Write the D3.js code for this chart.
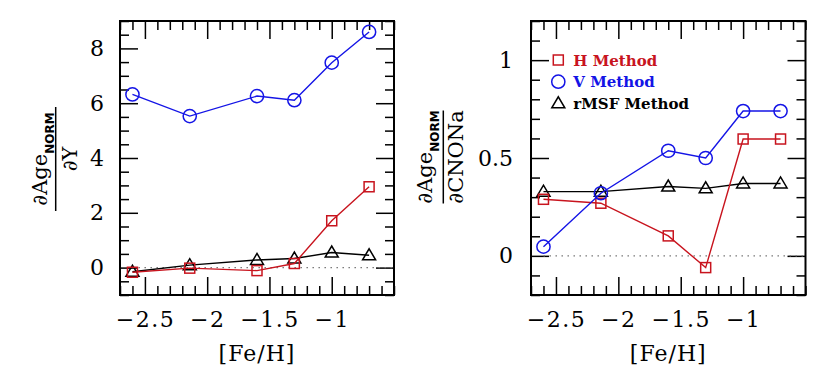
<!DOCTYPE html>
<html><head><meta charset="utf-8">
<script src="https://cdn.jsdelivr.net/npm/d3@7"></script>
<style>
html,body{margin:0;padding:0;background:#fff;}
svg{display:block;}
</style></head>
<body>
<svg id="chart" width="830" height="392"></svg>
<script>
// ---- data ----
const feh = [-2.6, -2.14, -1.6, -1.3, -1.0, -0.7];
const dY_H = [-0.17, -0.02, -0.11, 0.15, 1.71, 2.95];
const dY_V = [6.32, 5.53, 6.26, 6.11, 7.48, 8.60];
const dY_R = [-0.15, 0.09, 0.28, 0.33, 0.55, 0.45];
const dC_H = [0.289, 0.269, 0.102, -0.06, 0.597, 0.597];
const dC_V = [0.047, 0.32, 0.537, 0.50, 0.74, 0.74];
const dC_R = [0.328, 0.328, 0.354, 0.345, 0.37, 0.37];
const xMajor = [-2.5, -2, -1.5, -1];
const yMajorL = [0, 2, 4, 6, 8];
const yMajorR = [0, 0.5, 1];
const legendLabels = ["H Method", "V Method", "rMSF Method"];

const RED = "#c8141e", BLUE = "#1414e6", BLACK = "#000";
const svg = d3.select("#chart");
const fmt = d => d3.format("~g")(d);

function range(a, b, s) { const out = []; for (let v = a; v <= b + 1e-9; v += s) out.push(+v.toFixed(4)); return out; }

function panel(opts) {
  const {x0, x1, y0, y1, ydom, yMajor, yMinorStep, series, labelPad} = opts;
  const g = svg.append("g");
  const x = d3.scaleLinear().domain([-2.7, -0.5]).range([x0, x1]);
  const y = d3.scaleLinear().domain(ydom).range([y1, y0]);
  const xMinor = range(-2.7, -0.5, 0.1).filter(v => !xMajor.some(m => Math.abs(m - v) < 1e-6));
  const yMinor = range(ydom[0], ydom[1], yMinorStep).filter(v => !yMajor.some(m => Math.abs(m - v) < 1e-6));
  const font = "'DejaVu Serif', serif";
  const style = a => { a.select(".domain").remove(); a.selectAll(".tick line").attr("stroke", "#000").attr("stroke-width", 1.5); a.selectAll("text").attr("font-family", font).attr("font-size", 22).attr("fill", "#000"); };
  // bottom
  g.append("g").attr("transform", `translate(0,${y1})`).call(d3.axisBottom(x).tickValues(xMajor).tickSize(-18).tickPadding(16).tickFormat(fmt)).call(style)
    .selectAll(".tick text").attr("letter-spacing", 1.5);
  g.append("g").attr("transform", `translate(0,${y1})`).call(d3.axisBottom(x).tickValues(xMinor).tickSize(-9).tickFormat("")).call(style);
  // top
  g.append("g").attr("transform", `translate(0,${y0})`).call(d3.axisTop(x).tickValues(xMajor).tickSize(-18).tickFormat("")).call(style);
  g.append("g").attr("transform", `translate(0,${y0})`).call(d3.axisTop(x).tickValues(xMinor).tickSize(-9).tickFormat("")).call(style);
  // left
  g.append("g").attr("transform", `translate(${x0},0)`).call(d3.axisLeft(y).tickValues(yMajor).tickSize(-18).tickPadding(labelPad).tickFormat(fmt)).call(style);
  g.append("g").attr("transform", `translate(${x0},0)`).call(d3.axisLeft(y).tickValues(yMinor).tickSize(-9).tickFormat("")).call(style);
  // right
  g.append("g").attr("transform", `translate(${x1},0)`).call(d3.axisRight(y).tickValues(yMajor).tickSize(-18).tickFormat("")).call(style);
  g.append("g").attr("transform", `translate(${x1},0)`).call(d3.axisRight(y).tickValues(yMinor).tickSize(-9).tickFormat("")).call(style);

  // zero dotted line
  g.append("line").attr("x1", x(feh[0])).attr("x2", x1).attr("y1", y(0)).attr("y2", y(0))
    .attr("stroke", "#777").attr("stroke-width", 1.3).attr("stroke-dasharray", "1.5 4.5");

  const line = d3.line().x(d => x(d[0])).y(d => y(d[1]));
  series.forEach(s => {
    const pts = feh.map((f, i) => [f, s.vals[i]]);
    g.append("path").datum(pts).attr("d", line).attr("fill", "none").attr("stroke", s.color).attr("stroke-width", 1.4);
    pts.forEach(p => drawMarker(g, s.shape, x(p[0]), y(p[1]), s.color));
  });

  // frame
  g.append("rect").attr("x", x0).attr("y", y0).attr("width", x1 - x0).attr("height", y1 - y0)
    .attr("fill", "none").attr("stroke", "#000").attr("stroke-width", 2);

  // x label
  g.append("text").attr("x", (x0 + x1) / 2).attr("y", 361).attr("text-anchor", "middle")
    .attr("font-family", font).attr("font-size", 22).attr("letter-spacing", 1).text("[Fe/H]");
  return {g, x, y};
}

function drawMarker(g, shape, cx, cy, color) {
  if (shape === "circle") {
    g.append("circle").attr("cx", cx).attr("cy", cy).attr("r", 6.6).attr("fill", "none").attr("stroke", color).attr("stroke-width", 1.5);
  } else if (shape === "square") {
    g.append("rect").attr("x", cx - 5).attr("y", cy - 5).attr("width", 10).attr("height", 10).attr("fill", "none").attr("stroke", color).attr("stroke-width", 1.5);
  } else {
    g.append("path").attr("d", `M${cx - 6.5},${cy + 4.5}L${cx + 6.5},${cy + 4.5}L${cx},${cy - 6.5}Z`).attr("fill", "none").attr("stroke", color).attr("stroke-width", 1.5);
  }
}

function yLabel(xNumBase, xBar, xDenBase, yc, barLen, denom) {
  const g = svg.append("g").attr("transform", `translate(0,${yc}) rotate(-90)`);
  const font = "'DejaVu Serif', serif";
  const t = g.append("text").attr("x", 0).attr("y", xNumBase).attr("text-anchor", "middle").attr("font-family", font).attr("font-size", 21);
  t.append("tspan").text("∂Age");
  t.append("tspan").attr("dy", 7).attr("font-family", "'DejaVu Sans', sans-serif").attr("font-weight", "bold").attr("font-size", 12).text("NORM");
  g.append("line").attr("x1", -barLen / 2).attr("x2", barLen / 2).attr("y1", xBar).attr("y2", xBar).attr("stroke", "#000").attr("stroke-width", 1.5);
  g.append("text").attr("x", 0).attr("y", xDenBase).attr("text-anchor", "middle").attr("font-family", font).attr("font-size", 21).text(denom);
}

panel({x0: 120, x1: 394, y0: 21, y1: 295, ydom: [-1, 9], yMajor: yMajorL, yMinorStep: 0.5, labelPad: 16,
  series: [
    {vals: dY_V, color: BLUE, shape: "circle"},
    {vals: dY_R, color: BLACK, shape: "triangle"},
    {vals: dY_H, color: RED, shape: "square"}
  ]});
panel({x0: 531, x1: 805.5, y0: 21, y1: 295, ydom: [-0.2, 1.2], yMajor: yMajorR, yMinorStep: 0.1, labelPad: 18,
  series: [
    {vals: dC_R, color: BLACK, shape: "triangle"},
    {vals: dC_H, color: RED, shape: "square"},
    {vals: dC_V, color: BLUE, shape: "circle"}
  ]});

yLabel(46.5, 55.7, 77, 159, 104, "∂Y");
yLabel(432, 443.3, 463, 157, 93, "∂CNONa");

// legend
const legColors = [RED, BLUE, BLACK], legShapes = ["square", "circle", "triangle"];
const legY = [60, 81.7, 103.3];
const lg = svg.append("g");
legendLabels.forEach((lab, i) => {
  drawMarker(lg, legShapes[i], 558.3, legY[i], legColors[i]);
  lg.append("text").attr("x", 573.3).attr("y", legY[i] + 5.5).attr("font-family", "'DejaVu Serif', serif")
    .attr("font-weight", "bold").attr("font-size", 15).attr("fill", legColors[i]).text(lab);
});
</script>
</body></html>
